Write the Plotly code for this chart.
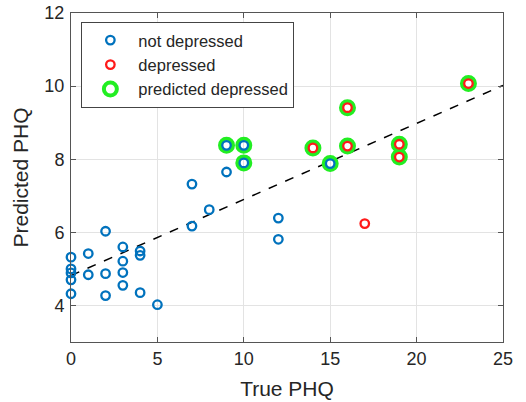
import plotly.graph_objects as go

# Data
not_dep_x = [0, 0, 0, 0, 0, 1, 1, 2, 2, 2, 3, 3, 3, 3, 4, 4, 4, 5, 7, 7, 8, 9, 9, 10, 10, 12, 12, 15]
not_dep_y = [5.32, 5.00, 4.89, 4.70, 4.32, 5.42, 4.84, 6.03, 4.87, 4.27, 5.60, 5.21, 4.90, 4.55,
             5.49, 5.37, 4.35, 4.02, 7.32, 6.17, 6.62, 7.65, 8.38, 8.38, 7.90, 6.39, 5.81, 7.88]

dep_x = [14, 16, 16, 17, 19, 19, 23]
dep_y = [8.31, 9.41, 8.36, 6.24, 8.41, 8.06, 10.07]

pred_x = [9, 10, 10, 15, 14, 16, 16, 19, 19, 23]
pred_y = [8.38, 8.38, 7.90, 7.88, 8.31, 9.41, 8.36, 8.41, 8.06, 10.07]

fit_x = [0, 25]
fit_y = [4.82, 10.02]

x_ticks = [0, 5, 10, 15, 20, 25]
y_ticks = [4, 6, 8, 10, 12]

BLUE = "#0072BD"
RED = "#FF1A1A"
GREEN = "#22EE22"
FONT = "Liberation Sans, Arial, sans-serif"
TXT = "#262626"

fig = go.Figure()

fig.add_trace(go.Scatter(
    x=fit_x, y=fit_y, mode="lines", showlegend=False,
    line=dict(color="black", width=1.5, dash="dash"), hoverinfo="skip"))

fig.add_trace(go.Scatter(
    x=pred_x, y=pred_y, mode="markers", name="predicted depressed", legendrank=3,
    cliponaxis=False,
    marker=dict(symbol="circle-open", size=13, color=GREEN, line=dict(width=4, color=GREEN))))

fig.add_trace(go.Scatter(
    x=not_dep_x, y=not_dep_y, mode="markers", name="not depressed", legendrank=1,
    cliponaxis=False,
    marker=dict(symbol="circle-open", size=8.5, color=BLUE, line=dict(width=2.3, color=BLUE))))

fig.add_trace(go.Scatter(
    x=dep_x, y=dep_y, mode="markers", name="depressed", legendrank=2,
    cliponaxis=False,
    marker=dict(symbol="circle-open", size=8.5, color=RED, line=dict(width=2.3, color=RED))))

axis_common = dict(
    showgrid=True, gridcolor="#e3e3e3", gridwidth=1,
    showline=True, linecolor="#555555", linewidth=1, mirror="ticks",
    ticks="inside", ticklen=5, tickcolor="#555555",
    zeroline=False, automargin=False,
    tickfont=dict(family=FONT, size=18, color=TXT),
)

fig.update_xaxes(range=[0, 25], tickvals=x_ticks,
                 title=dict(text="True PHQ", font=dict(family=FONT, size=21, color=TXT), standoff=13),
                 **axis_common)
fig.update_yaxes(range=[3, 12], tickvals=y_ticks, ticklabelstandoff=2,
                 title=dict(text="Predicted PHQ", font=dict(family=FONT, size=21, color=TXT), standoff=10),
                 **axis_common)

fig.update_layout(
    width=526, height=402,
    margin=dict(l=71, r=23, t=13, b=60),
    plot_bgcolor="white", paper_bgcolor="white",
    font=dict(family=FONT, color=TXT),
    legend=dict(x=0.024, y=0.973, xanchor="left", yanchor="top",
                bgcolor="white", bordercolor="#444444", borderwidth=1,
                font=dict(family=FONT, size=16.5, color=TXT),
                itemsizing="trace", itemwidth=46, tracegroupgap=0),
)

fig.write_html("out.html", config={"displayModeBar": False},
               post_script="document.body.style.margin='0';document.body.style.padding='0';")
